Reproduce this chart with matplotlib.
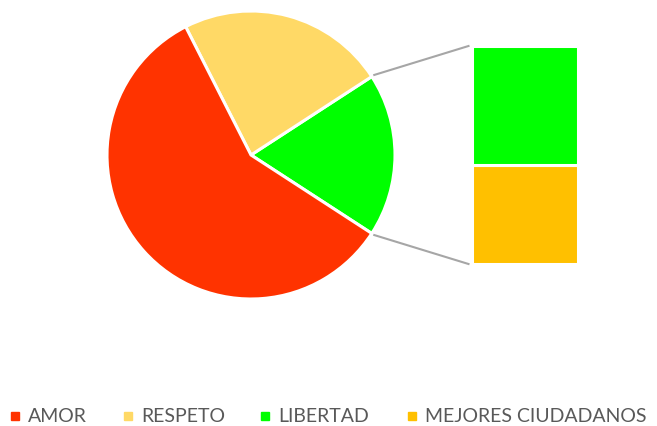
"""Bar-of-pie chart: AMOR / RESPETO / LIBERTAD / MEJORES CIUDADANOS."""
import matplotlib
matplotlib.use("Agg")
import matplotlib.pyplot as plt
import numpy as np

# data
labels = ["AMOR", "RESPETO", "LIBERTAD", "MEJORES CIUDADANOS"]
values = [35, 14, 6, 5]
colors = ["#FF3300", "#FFD966", "#00FF00", "#FFC000"]
n_main = 2  # first two in the pie, rest go in the bar

W, H = 657, 427
fig = plt.figure(figsize=(W / 100, H / 100), dpi=100)
ax = fig.add_axes([0, 0, 1, 1])
ax.set_xlim(0, W)
ax.set_ylim(0, H)
ax.set_aspect("equal")
ax.axis("off")

# pie geometry (pixel coords, y up)
cx, cy, r = 251, H - 156, 144
main_vals = values[:n_main]
other = sum(values[n_main:])
pie_vals = [other, main_vals[1], main_vals[0]]
pie_cols = [colors[2], colors[1], colors[0]]
other_deg = 360 * other / sum(values)
ax.pie(pie_vals, colors=pie_cols, center=(cx, cy), radius=r,
       startangle=-other_deg / 2, counterclock=True, frame=True,
       wedgeprops=dict(edgecolor="white", linewidth=2.2))
ax.set_xlim(0, W)
ax.set_ylim(0, H)
ax.axis("off")

# bar of the "other" group
bar_x, bar_w = 525.5, 106
bar_top, bar_bot = H - 47, H - 265
scale = (bar_top - bar_bot) / other
bottom = bar_bot
for v, c in reversed(list(zip(values[n_main:], colors[n_main:]))):
    ax.bar(bar_x, v * scale, width=bar_w, bottom=bottom, color=c,
           edgecolor="white", linewidth=2.2)
    bottom += v * scale

# connector lines
a = np.deg2rad(other_deg / 2)
for sgn, ty in [(1, bar_top), (-1, bar_bot)]:
    px = cx + (r + 3) * np.cos(a)
    py = cy + sgn * (r + 3) * np.sin(a)
    ax.plot([px, bar_x - bar_w / 2 - 4], [py, ty], color="#A6A6A6", lw=1.5)

# legend
leg_y = H - 417
mark_x = [15, 128, 265, 412]
for lab, col, mx in zip(labels, colors, mark_x):
    ax.plot(mx, leg_y, marker="s", ms=5.2, color=col, mec=col)
    ax.text(mx + 13, leg_y, lab, fontsize=14, color="#595959",
            family="Lato", va="center", ha="left")

fig.savefig("out.png", dpi=100)
